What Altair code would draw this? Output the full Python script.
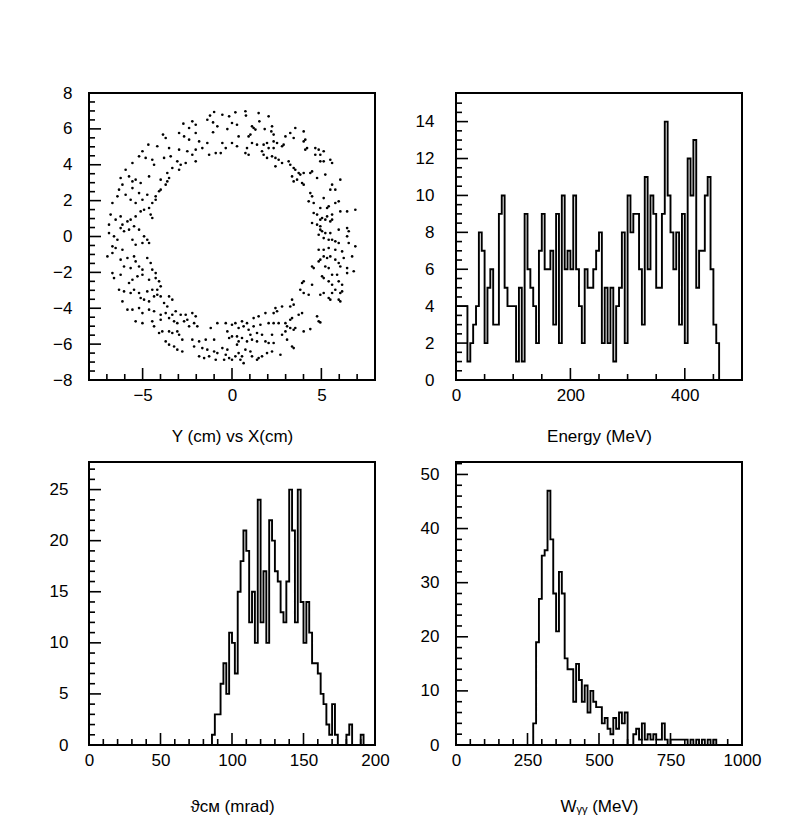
import altair as alt
import pandas as pd

# ---------------- data ----------------
# Panel 1: scattered hits, Y (cm) vs X (cm)  (left half / right half of the ring)
RING_LEFT = [
    (-1.0, 6.94), (-1.23, 6.74), (-0.54, 6.79), (-1.38, 6.51), (-1.06, 6.36), (-0.82, 6.14), (-1.06, 5.81),
    (-0.26, 5.99), (-0.16, 6.7), (-2.22, 6.42), (-2.03, 6.23), (-2.72, 6.29), (-2.4, 6.05), (-2.03, 5.77),
    (-2.96, 5.77), (-2.68, 5.58),
    (-3.86, 5.68), (-3.71, 5.49), (-2.4, 5.4), (-1.84, 5.3), (-1.38, 5.21), (-1.66, 4.93), (-0.54, 5.21),
    (-0.35, 4.93), (-0.63, 4.65), (-1.28, 4.56), (-0.91, 4.65), (-2.03, 4.84), (-2.22, 4.56), (-2.5, 4.75),
    (-2.96, 4.84), (-3.52, 4.93), (-4.18, 5.03), (-4.68, 5.12), (-5.01, 4.75), (-5.2, 4.47), (-5.57, 4.1),
    (-4.83, 4.38), (-4.46, 4.28), (-4.36, 4.0), (-3.8, 4.38), (-3.43, 4.47), (-3.06, 4.19), (-2.87, 4.0),
    (-2.59, 4.1), (-2.03, 4.19), (-3.34, 3.82), (-2.96, 3.72), (-3.62, 3.54),
    (-5.95, 3.72), (-6.23, 3.26), (-5.76, 3.35), (-5.57, 3.07), (-6.13, 2.89), (-6.32, 2.61), (-5.39, 3.17),
    (-5.11, 2.98), (-4.64, 3.35), (-3.99, 3.17), (-3.62, 3.07), (-3.52, 3.26), (-3.71, 2.89), (-4.08, 2.52),
    (-4.27, 2.24), (-3.99, 2.61), (-4.27, 2.05), (-6.41, 2.24), (-5.95, 2.33), (-5.67, 2.05), (-5.39, 1.87),
    (-5.01, 2.05), (-4.74, 2.33), (-4.46, 1.87), (-6.69, 1.87), (-5.2, 2.42), (-5.57, 2.7),
    (-6.79, 1.22), (-6.88, 0.66), (-6.51, 0.94), (-6.23, 1.12), (-6.13, 0.66), (-5.85, 0.84), (-5.67, 0.94),
    (-5.39, 1.12), (-5.11, 1.4), (-4.92, 1.49), (-4.64, 1.59), (-4.55, 1.22), (-4.46, 1.03), (-6.88, 0.19),
    (-6.6, 0.01), (-6.23, 0.47), (-6.04, 0.29), (-5.76, 0.38), (-5.48, 0.57), (-5.2, 0.38), (-4.92, 0.01),
    (-4.74, -0.18), (-4.64, -0.36), (-5.57, -0.18), (-5.39, -0.46), (-5.01, -0.36), (-6.41, -0.18), (-6.69, -0.55),
    (-6.97, -1.11), (-6.51, -0.64), (-6.13, -0.74), (-6.69, -0.92), (-6.23, -1.29), (-5.85, -1.2), (-5.48, -1.11),
    (-5.39, -1.39), (-5.2, -1.67), (-5.01, -1.85), (-4.74, -1.2), (-4.55, -1.48), (-4.46, -1.85), (-4.27, -2.04),
    (-6.04, -1.67), (-5.67, -1.76), (-6.69, -2.04), (-6.6, -2.32), (-6.23, -2.13), (-5.29, -2.22), (-5.01, -2.13),
    (-4.64, -2.41), (-4.27, -2.32), (-4.08, -2.5), (-5.76, -2.59), (-5.57, -2.41),
    (-6.32, -2.97), (-6.04, -3.06), (-5.67, -3.15), (-5.48, -2.97), (-5.2, -3.15), (-4.74, -3.06), (-4.46, -2.97),
    (-4.18, -2.97), (-3.99, -2.78), (-6.13, -3.62), (-5.11, -3.43), (-4.92, -3.52), (-4.64, -3.62), (-4.36, -3.34),
    (-4.18, -3.25), (-3.99, -3.34), (-3.52, -3.34), (-3.34, -3.52), (-3.62, -3.9), (-3.8, -3.71), (-5.85, -4.08),
    (-5.57, -4.08), (-5.2, -3.99), (-5.01, -4.27), (-4.64, -4.08), (-4.36, -4.17), (-3.99, -4.36), (-3.71, -4.27),
    (-3.34, -4.36), (-3.15, -4.17), (-2.87, -4.36), (-2.59, -4.36), (-2.22, -4.27), (-2.03, -4.45), (-5.39, -4.73),
    (-5.01, -4.83), (-4.46, -4.73), (-4.36, -5.01), (-3.99, -4.64), (-3.52, -4.55), (-3.24, -4.73), (-3.06, -4.83),
    (-2.68, -4.73), (-2.5, -4.64), (-2.4, -5.01), (-2.12, -4.83), (-1.94, -5.01),
    (-4.08, -5.38), (-3.9, -5.29), (-3.52, -5.29), (-3.34, -5.38), (-3.06, -5.29), (-2.96, -5.48), (-3.71, -5.85),
    (-3.52, -6.03), (-2.78, -5.75), (-2.22, -5.75), (-1.84, -5.85), (-1.47, -5.75), (-1.0, -5.75), (-1.19, -5.1),
    (-0.82, -4.83), (-0.35, -4.83), (-0.26, -5.29), (-0.16, -5.66), (-3.24, -6.13), (-3.06, -6.31), (-2.78, -6.41),
    (-2.12, -6.13), (-1.66, -6.22), (-1.38, -6.31), (-1.0, -6.41), (-0.54, -6.22), (-0.26, -6.31), (-1.84, -6.68),
    (-1.56, -6.78), (-1.28, -6.68), (-0.91, -6.87), (-0.35, -6.59), (-0.16, -6.78), (-0.44, -6.87), (-0.82, -6.5),
]
RING_RIGHT = [
    (0.19, 6.92), (0.75, 6.98), (0.78, 6.74), (1.49, 6.88), (1.53, 6.42), (2.05, 6.7), (0.28, 6.23), (0.0, 6.33),
    (1.12, 6.14), (1.21, 6.05), (1.31, 5.96), (1.83, 5.99), (2.24, 6.14), (2.2, 5.86), (2.33, 5.68), (1.03, 5.68),
    (0.93, 5.58), (0.37, 5.58), (0.0, 5.21), (0.28, 5.03), (0.84, 4.93), (1.12, 5.21), (1.4, 5.12), (1.77, 5.12),
    (1.96, 5.21), (2.33, 5.3), (2.52, 5.21), (2.99, 5.58), (3.26, 5.77), (3.54, 6.05), (4.01, 5.86), (4.1, 5.4),
    (4.01, 5.3), (3.45, 5.49), (2.89, 5.12), (2.8, 5.03), (2.33, 4.93), (2.05, 4.93),
    (0.75, 4.65), (0.93, 4.56), (1.68, 4.75), (1.77, 4.56), (2.24, 4.47), (2.43, 4.38), (2.61, 4.28), (2.8, 4.1),
    (3.17, 4.19), (3.26, 4.0), (3.45, 3.82), (3.54, 3.72), (3.73, 3.54), (3.82, 3.45), (4.01, 3.54), (4.38, 3.54),
    (4.48, 3.63), (4.66, 4.93), (4.85, 4.84), (5.13, 4.75), (4.94, 4.56), (4.66, 4.56), (4.94, 4.19), (5.13, 4.19),
    (5.5, 4.28), (5.6, 4.1), (2.43, 3.91), (1.96, 4.38), (4.1, 4.84), (4.2, 4.93), (3.36, 3.35), (3.45, 3.07),
    (3.64, 3.17), (3.92, 2.98), (4.01, 2.89), (5.22, 3.45), (4.76, 3.26), (5.6, 2.89), (5.78, 2.61), (6.06, 3.17),
    (5.5, 2.61),
    (4.38, 2.42), (4.48, 2.24), (5.13, 2.14), (4.29, 1.96), (4.57, 1.87), (4.94, 1.59), (5.32, 1.59), (5.41, 1.68),
    (5.78, 1.87), (5.97, 1.96), (4.57, 1.31), (4.76, 1.22), (4.94, 0.94), (5.04, 1.03), (5.32, 1.12), (5.6, 1.22),
    (6.06, 1.4), (6.44, 1.4), (6.9, 1.49), (4.48, 0.75), (4.76, 0.66), (4.94, 0.57), (5.22, 0.94), (5.5, 0.84),
    (5.6, 0.94),
    (4.94, 0.38), (5.04, 0.29), (4.85, 0.1), (5.22, 0.19), (5.5, 0.19), (5.97, 0.38), (6.44, 0.47), (6.53, 0.29),
    (5.13, -0.09), (5.41, -0.18), (5.6, -0.18), (5.78, -0.27), (5.97, -0.36), (6.44, 0.01), (6.53, -0.36),
    (6.9, -0.55), (4.85, -0.74), (5.13, -0.74), (5.41, -0.64), (5.78, -0.74), (6.16, -0.83), (5.13, -1.11),
    (5.32, -1.2), (5.5, -1.11), (4.94, -1.29), (4.85, -1.39), (5.78, -1.29), (5.97, -1.48), (6.25, -1.2),
    (6.72, -1.11), (4.48, -1.67), (4.57, -1.76), (5.22, -1.67), (5.41, -1.76), (6.06, -1.67), (6.44, -1.76),
    (5.6, -2.13), (5.88, -2.13), (6.44, -2.04), (6.81, -1.94), (5.04, -2.22), (5.13, -2.32), (5.41, -2.5),
    (5.6, -2.69), (5.97, -2.5), (6.16, -2.69), (4.48, -2.69), (4.01, -2.5), (3.92, -2.59), (3.82, -2.97),
    (4.01, -3.15), (4.29, -3.25), (4.94, -3.25), (5.13, -3.15), (5.6, -3.15), (5.78, -2.97), (6.06, -3.15),
    (6.16, -3.06), (5.41, -3.43), (5.5, -3.52), (5.97, -3.52), (6.06, -3.62), (3.36, -3.52), (3.45, -3.8),
    (3.26, -3.9), (2.8, -3.9),
    (2.43, -3.99), (2.52, -4.17), (2.33, -4.27), (1.87, -4.27), (1.49, -4.45), (1.21, -4.55), (0.84, -4.83),
    (0.56, -4.73), (0.19, -4.83), (0.0, -4.92), (0.37, -5.1), (0.65, -5.01), (0.93, -5.2), (1.21, -5.01),
    (1.59, -4.92), (2.05, -4.83), (2.33, -4.83), (2.61, -4.83), (2.99, -4.83), (3.26, -4.64), (3.36, -4.55),
    (3.73, -4.36), (3.92, -4.27), (4.76, -4.45), (4.85, -4.73), (4.94, -4.79), (3.08, -5.01), (3.26, -5.1),
    (3.54, -5.1), (4.01, -5.29), (4.38, -5.16), (2.99, -5.29), (3.45, -5.2), (2.8, -5.48), (2.24, -5.48),
    (1.68, -5.48), (1.4, -5.38), (1.03, -5.48),
    (0.0, -5.57), (0.28, -5.57), (0.56, -5.66), (0.37, -5.85), (0.28, -6.03), (0.84, -5.85), (1.12, -5.75),
    (1.4, -5.85), (1.87, -5.85), (2.05, -5.94), (2.33, -5.94), (3.08, -5.75), (3.36, -6.13), (3.45, -6.22),
    (2.71, -6.59), (2.24, -6.41), (1.96, -6.5), (1.68, -6.68), (1.49, -6.78), (1.4, -6.87), (1.12, -6.68),
    (1.03, -6.41), (0.75, -6.31), (0.56, -6.68), (0.37, -6.5), (0.47, -6.87), (0.65, -7.06), (0.0, -6.87),
    (0.19, -6.68),
]

# Panel 2: Energy (MeV), 100 bins of 5 MeV from 0
E_LOW, E_BIN = 0, 5
E_COUNTS = [
    4, 4, 4, 4, 1, 2, 3, 4, 8, 7,
    2, 5, 6, 3, 3, 9, 10, 5, 4, 4,
    4, 1, 5, 1, 9, 6, 5, 4, 2, 7,
    9, 6, 6, 7, 3, 9, 2, 10, 6, 7,
    6, 10, 6, 4, 2, 6, 5, 5, 6, 7,
    8, 2, 5, 2, 5, 1, 4, 5, 8, 2,
    10, 8, 9, 9, 6, 3, 11, 6, 10, 9,
    5, 5, 9, 14, 10, 8, 6, 8, 3, 9,
    2, 12, 10, 13, 5, 7, 7, 10, 11, 6,
    3, 2, 0, 0, 0, 0, 0, 0, 0, 0,
]

# Panel 3: theta_CM (mrad), 100 bins of 2 mrad from 0
TH_LOW, TH_BIN = 0, 2
TH_COUNTS = [
    0, 0, 0, 0, 0, 0, 0, 0, 0, 0,
    0, 0, 0, 0, 0, 0, 0, 0, 0, 0,
    0, 0, 0, 0, 0, 0, 0, 0, 0, 0,
    0, 0, 0, 0, 0, 0, 0, 0, 0, 0,
    0, 0, 0, 1, 3, 3, 6, 8, 5, 11,
    10, 7, 15, 18, 21, 19, 12, 15, 10, 24,
    12, 17, 10, 22, 20, 17, 16, 13, 12, 16,
    25, 21, 12, 25, 14, 10, 14, 11, 8, 8,
    7, 5, 4, 2, 1, 4, 1, 0, 0, 0,
    1, 2, 0, 0, 0, 1, 0, 0, 0, 0,
]

# Panel 4: W_gamma-gamma (MeV), 100 bins of 10 MeV from 0
W_LOW, W_BIN = 0, 10
W_COUNTS = [
    0, 0, 0, 0, 0, 0, 0, 0, 0, 0,
    0, 0, 0, 0, 0, 0, 0, 0, 0, 0,
    0, 0, 0, 0, 0, 0, 0, 4, 19, 27,
    35, 36, 47, 38, 28, 21, 32, 28, 16, 14,
    14, 8, 15, 12, 8, 11, 6, 10, 8, 7,
    7, 4, 5, 3, 2, 5, 3, 6, 4, 6,
    0, 0, 2, 3, 1, 4, 1, 2, 1, 2,
    1, 1, 4, 1, 0, 1, 1, 1, 1, 1,
    1, 0, 1, 0, 1, 0, 1, 0, 1, 0,
    1, 0, 0, 0, 0, 0, 0, 0, 0, 0,
]

# axis labels and tick positions
P1_XLAB = [-5, 0, 5]
P1_YLAB = [-8, -6, -4, -2, 0, 2, 4, 6, 8]
P2_XLAB = [0, 200, 400]
P2_YLAB = [0, 2, 4, 6, 8, 10, 12, 14]
P3_XLAB = [0, 50, 100, 150, 200]
P3_YLAB = [0, 5, 10, 15, 20, 25]
P4_XLAB = [0, 250, 500, 750, 1000]
P4_YLAB = [0, 10, 20, 30, 40, 50]

P1_XMIN = [-7, -6, -4, -3, -2, -1, 1, 2, 3, 4, 6, 7]
P1_YMIN = [-7.5, -7, -6.5, -5.5, -5, -4.5, -3.5, -3, -2.5, -1.5, -1, -0.5,
           0.5, 1, 1.5, 2.5, 3, 3.5, 4.5, 5, 5.5, 6.5, 7, 7.5]
P2_XMIN = [50, 100, 150, 250, 300, 350, 450]
P2_YMIN = [0.5, 1, 1.5, 2.5, 3, 3.5, 4.5, 5, 5.5, 6.5, 7, 7.5, 8.5, 9, 9.5,
           10.5, 11, 11.5, 12.5, 13, 13.5, 14.5, 15]
P3_XMIN = [10, 20, 30, 40, 60, 70, 80, 90, 110, 120, 130, 140, 160, 170, 180, 190]
P3_YMIN = [1, 2, 3, 4, 6, 7, 8, 9, 11, 12, 13, 14, 16, 17, 18, 19, 21, 22, 23, 24, 26, 27]
P4_XMIN = [50, 100, 150, 200, 300, 350, 400, 450, 550, 600, 650, 700, 800, 850, 900, 950]
P4_YMIN = [2, 4, 6, 8, 12, 14, 16, 18, 22, 24, 26, 28, 32, 34, 36, 38, 42, 44, 46, 48, 52]

FONT = "Liberation Sans"
INK = "#000000"
FS = 17


def step_table(counts, low, binw):
    xs, ys = [low], [0]
    for i, c in enumerate(counts):
        xs.append(low + i * binw)
        ys.append(c)
    end = low + len(counts) * binw
    xs += [end, end]
    ys += [counts[-1], 0]
    return pd.DataFrame({"x": xs, "y": ys, "k": list(range(len(xs)))})


def panel(data, kind, mark_opts, xdom, ydom, xlab, ylab, xmin, ymin, w, h, title, ylp, tpad, ordered):
    xs = alt.Scale(domain=xdom, nice=False, zero=False)
    ys = alt.Scale(domain=ydom, nice=False, zero=False)
    lab_x = alt.Axis(orient="bottom", values=xlab, format="d", ticks=False, domain=False, grid=False,
                     labelPadding=7, labelFlush=False, labelOverlap=False, labelFont=FONT,
                     labelFontSize=FS, labelColor=INK, title=title, titleFont=FONT, titleFontSize=FS,
                     titleFontWeight="normal", titleColor=INK, titlePadding=tpad)
    lab_y = alt.Axis(orient="left", values=ylab, format="d", ticks=False, domain=False, grid=False,
                     labelPadding=ylp, labelOverlap=False, labelFont=FONT, labelFontSize=FS,
                     labelColor=INK, title=None)
    enc = dict(x=alt.X("x:Q", scale=xs, axis=lab_x), y=alt.Y("y:Q", scale=ys, axis=lab_y))
    if ordered:
        enc["order"] = alt.Order("k:Q")
    base = alt.Chart(data)
    main = getattr(base, "mark_" + kind)(**mark_opts).encode(**enc)

    def xticks(vals, size):
        return alt.Chart(pd.DataFrame({"t": vals})).mark_rule(color=INK, strokeWidth=1.6).encode(
            x=alt.X("t:Q", scale=xs, axis=None), y=alt.value(h), y2=alt.value(h - size))

    def yticks(vals, size):
        return alt.Chart(pd.DataFrame({"t": vals})).mark_rule(color=INK, strokeWidth=1.6).encode(
            y=alt.Y("t:Q", scale=ys, axis=None), x=alt.value(0), x2=alt.value(size))

    return (alt.layer(main, xticks(xlab, 12), xticks(xmin, 6), yticks(ylab, 12), yticks(ymin, 6))
            .resolve_axis(x="independent", y="independent")
            .properties(width=w, height=h))


ring = pd.DataFrame(RING_LEFT + RING_RIGHT, columns=["x", "y"])
DOTS = dict(size=7, color=INK, opacity=1)
STEPS = dict(interpolate="step-after", color=INK, strokeWidth=1.9)

p1 = panel(ring, "circle", DOTS, [-8, 8], [-8, 8], P1_XLAB, P1_YLAB, P1_XMIN, P1_YMIN,
           286, 287, "Y (cm) vs X(cm)", 17, 25, False)
p2 = panel(step_table(E_COUNTS, E_LOW, E_BIN), "line", STEPS, [0, 500], [0, 15.55], P2_XLAB, P2_YLAB,
           P2_XMIN, P2_YMIN, 286, 287, "Energy (MeV)", 22, 25, True)
p3 = panel(step_table(TH_COUNTS, TH_LOW, TH_BIN), "line", STEPS, [0, 200], [0, 27.7], P3_XLAB, P3_YLAB,
           P3_XMIN, P3_YMIN, 286, 283, "ϑᴄᴍ (mrad)", 21, 30, True)
p4 = panel(step_table(W_COUNTS, W_LOW, W_BIN), "line", STEPS, [0, 1000], [0, 52.3], P4_XLAB, P4_YLAB,
           P4_XMIN, P4_YMIN, 286, 283, "Wᵧᵧ (MeV)", 17, 30, True)

chart = (alt.concat(p1, p2, p3, p4, columns=2, spacing={"row": 82, "column": 81}, bounds="flush")
         .properties(padding={"left": 48, "top": 83, "right": 5, "bottom": 5}, background="white")
         .configure_view(stroke=INK, strokeWidth=2))

chart.save("out.html", embed_options={"renderer": "svg", "actions": False})
